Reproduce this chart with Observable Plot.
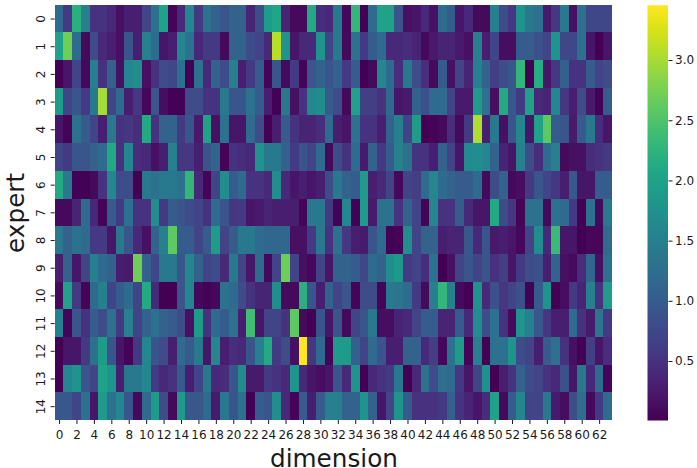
<!DOCTYPE html>
<html>
<head>
<meta charset="utf-8">
<script src="https://cdn.jsdelivr.net/npm/d3@7"></script>
<script src="https://cdn.jsdelivr.net/npm/@observablehq/plot@0.6"></script>
<style>
html,body{margin:0;padding:0;background:#fff;}
#wrap{position:relative;width:697px;height:468px;overflow:hidden;}
#wrap svg{position:absolute;left:0;top:0;background:transparent;}
</style>
</head>
<body>
<div id="wrap"></div>
<script>
const row0=[1.2,0.6,2.2,1.5,0.5,0.5,0.4,0.15,0.3,0.3,0.7,1.3,2.0,0.05,0.4,1.6,0.6,1.3,1.1,0.9,1.1,1.1,0.35,0.8,1.9,2.05,0.35,0.1,0.1,2.1,0.45,0.4,1.4,0.08,2.3,0.03,1.2,2.0,2.0,0.9,0.15,0.2,0.4,0.15,1.2,1.0,0.2,0.4,0.1,0.1,1.5,0.8,0.55,1.8,1.4,1.3,0.25,0.55,1.4,0.15,1.3,0.75,0.75,0.75];
const row1=[2.0,2.7,1.2,0.1,0.8,0.4,0.3,0.15,0.9,0.3,1.5,1.2,0.2,0.3,1.6,1.3,0.4,0.6,0.6,0.1,1.1,1.1,0.8,0.7,0.4,3.1,1.8,0.2,0.4,0.4,1.8,0.7,1.4,0.1,1.3,0.6,1.0,1.2,0.4,0.4,0.45,0.35,0.08,0.25,0.35,0.35,0.25,0.15,1.5,0.3,0.7,0.12,0.12,1.0,1.0,0.85,0.7,1.8,0.75,0.75,1.3,0.2,0.02,0.2];
const row2=[0.02,0.2,0.7,0.08,1.5,0.5,1.1,0.15,1.6,1.7,0.15,0.5,0.8,0.75,1.3,0.02,1.3,0.4,1.1,0.8,1.5,0.3,0.6,1.0,0.05,0.9,0.1,0.6,0.05,0.9,1.1,0.9,1.1,0.6,1.0,0.02,0.1,1.6,1.2,0.45,1.4,0.8,0.45,0.1,1.0,0.15,0.7,0.35,1.5,1.1,0.65,0.8,0.95,2.3,0.02,2.15,0.2,0.55,1.05,0.5,0.5,1.0,0.7,0.8];
const row3=[1.9,0.7,0.9,0.6,1.4,3.0,0.7,1.2,0.3,0.55,0.07,0.9,0.12,0.03,0.03,0.8,0.8,0.5,0.5,1.4,0.9,0.9,1.3,1.0,0.3,0.03,1.4,0.15,0.5,1.6,1.7,1.0,0.8,0.1,2.0,0.65,0.65,0.5,1.2,0.2,0.25,1.1,0.85,1.2,1.2,0.7,0.25,0.25,1.9,1.3,0.15,2.1,0.95,0.6,2.0,0.4,0.35,1.6,0.55,0.3,0.8,0.25,0.03,1.0];
const row4=[0.2,0.05,1.3,1.0,0.7,0.3,1.4,0.5,0.55,0.45,2.1,0.5,1.1,1.1,0.6,0.9,0.25,2.0,0.15,1.3,0.2,0.2,1.2,0.8,0.02,0.3,1.0,0.5,0.35,0.35,0.45,1.2,0.3,0.2,1.3,0.5,0.5,0.3,1.1,1.5,0.7,1.9,0.02,0.05,0.1,0.45,0.1,0.6,3.05,0.3,1.4,0.15,0.9,1.6,0.2,2.0,2.6,1.0,0.9,0.25,1.0,1.4,0.45,0.2];
const row5=[0.7,0.6,0.9,0.9,1.1,1.2,2.1,0.5,1.6,0.45,0.4,0.15,0.3,1.5,0.55,0.55,0.3,0.9,1.1,0.05,0.5,0.45,0.4,1.8,1.4,1.4,1.1,0.6,0.9,0.7,1.2,0.1,0.8,0.5,1.2,0.25,1.1,0.6,1.0,1.5,1.3,0.5,0.5,0.3,1.1,0.7,0.2,1.65,1.7,1.6,1.1,0.35,0.2,1.5,0.8,0.45,1.2,1.5,0.1,0.15,0.15,0.45,0.5,0.6];
const row6=[2.1,1.4,0.03,0.03,0.1,0.5,1.6,0.8,0.8,0.02,1.4,1.3,1.4,1.4,1.3,2.3,0.4,0.05,0.7,1.7,1.0,1.2,0.5,0.5,0.4,1.7,0.4,0.2,0.3,0.2,0.3,0.8,1.4,1.1,1.0,1.9,0.3,0.4,0.7,0.08,0.7,0.65,1.2,1.6,1.2,1.1,1.0,1.0,1.2,0.1,0.8,1.1,0.08,0.12,0.6,0.9,0.7,0.55,0.3,0.95,0.2,0.2,1.0,1.0];
const row7=[0.1,0.1,0.35,1.2,0.4,0.05,1.0,0.6,1.3,0.5,0.5,1.7,0.6,1.0,0.9,0.8,0.7,0.5,1.2,0.9,0.55,0.6,0.2,0.25,0.35,0.3,0.3,0.3,0.05,1.4,1.4,0.6,0.03,1.6,0.03,1.9,0.25,1.3,1.3,0.5,1.1,0.7,0.05,1.6,0.5,0.5,1.0,0.4,0.2,0.2,2.1,0.8,0.55,0.05,1.3,1.3,0.1,1.3,1.2,0.6,0.03,1.3,0.1,1.4];
const row8=[1.4,1.1,1.3,1.2,0.6,0.6,0.2,1.4,0.9,0.4,0.15,1.1,1.5,2.6,1.0,1.0,0.7,1.0,1.9,0.7,1.0,1.4,1.4,1.2,1.15,1.15,1.15,0.15,0.15,0.6,1.4,0.5,1.3,0.55,0.3,0.25,0.9,1.2,0.03,0.05,1.7,0.7,1.1,1.1,0.3,0.35,0.35,0.95,0.4,0.9,0.25,0.3,0.2,0.08,0.7,1.7,0.4,2.35,0.2,0.2,0.02,0.07,0.07,1.2];
const row9=[0.3,1.1,0.2,0.7,1.5,1.2,1.1,0.3,0.25,2.7,1.1,0.75,1.4,1.4,0.9,1.6,1.1,0.7,0.8,0.4,1.4,0.7,0.2,1.2,0.08,0.7,2.7,0.7,0.15,0.08,0.7,0.2,1.1,1.1,1.0,0.75,1.2,1.1,1.7,1.85,0.6,0.7,0.45,1.3,0.02,0.15,0.7,0.9,0.7,0.9,0.5,0.65,0.2,0.6,0.8,0.85,0.3,1.1,0.15,0.1,0.45,1.15,0.15,1.3];
const row10=[0.1,2.0,0.6,0.05,1.2,1.5,0.7,1.0,1.2,0.7,2.1,0.4,0.02,0.02,0.9,1.6,0.08,0.03,0.08,1.3,1.2,0.8,0.5,0.35,0.35,1.7,0.1,0.1,2.2,0.9,0.3,1.1,0.7,0.9,0.05,0.8,0.8,0.05,1.4,1.35,1.2,0.6,0.1,1.5,2.3,1.5,0.1,0.02,1.8,0.4,0.85,0.55,0.7,0.85,0.03,1.0,1.8,0.02,0.12,0.6,0.35,1.5,0.5,1.9];
const row11=[1.5,0.05,0.9,0.5,1.0,0.8,1.3,0.6,1.5,0.7,1.1,1.3,1.1,1.0,0.8,0.15,1.9,0.5,1.2,1.0,1.3,0.3,2.4,0.2,0.7,0.7,0.5,2.6,0.1,0.02,0.9,0.2,0.9,0.1,0.7,0.9,1.4,0.12,0.12,0.35,0.4,0.7,1.0,1.0,0.35,0.35,1.0,0.4,1.7,0.8,1.3,0.5,0.1,1.8,1.5,0.95,0.55,0.3,0.3,1.2,0.5,0.25,1.35,0.6];
const row12=[0.02,0.2,0.2,0.6,1.3,1.9,0.9,0.2,0.05,0.6,1.6,0.9,0.8,0.3,1.2,1.0,1.4,0.2,1.6,0.3,0.45,0.4,0.9,1.5,2.1,0.6,0.8,0.15,3.45,0.55,1.2,0.05,1.9,1.9,1.05,0.7,1.2,0.9,0.3,0.3,1.1,1.1,0.4,0.65,0.08,1.3,1.9,0.05,1.5,0.02,1.3,1.3,1.8,0.8,0.7,0.3,1.0,1.3,0.5,0.15,0.03,0.65,0.2,0.45];
const row13=[0.02,1.6,1.8,0.9,0.7,2.0,1.8,0.3,1.4,1.4,1.6,0.6,0.4,0.5,1.0,0.3,0.7,1.4,0.4,0.45,0.9,1.7,0.25,0.25,0.6,0.5,0.4,1.8,0.4,0.2,0.12,0.2,0.9,0.4,1.8,0.02,0.4,0.5,0.6,1.4,0.02,0.4,1.3,0.8,1.25,1.2,0.55,0.2,0.7,1.75,0.02,0.3,0.5,1.1,0.8,0.7,0.5,0.4,0.85,0.2,1.4,0.4,1.2,0.05];
const row14=[0.95,0.95,0.7,1.3,0.2,1.9,1.3,1.6,0.9,0.08,1.2,1.9,0.8,0.1,1.9,0.95,0.95,1.2,0.25,1.4,0.9,1.3,0.02,1.0,0.9,1.7,0.4,0.05,1.0,0.3,1.0,1.5,1.5,1.1,1.1,1.8,1.1,0.2,0.7,1.8,1.0,0.5,0.5,0.5,0.6,1.05,0.5,0.35,0.2,0.45,2.0,0.1,1.0,1.6,0.7,0.7,1.4,0.25,0.12,0.8,1.25,0.1,0.6,1.2];

const rows=[row0,row1,row2,row3,row4,row5,row6,row7,row8,row9,row10,row11,row12,row13,row14];
const experts=d3.range(15);
const dims=d3.range(64);
const xTicks=d3.range(0,64,2);
const barTicks=[0.5,1.0,1.5,2.0,2.5,3.0];
const colorDomain=[0.01,3.46];
const cells=rows.flatMap((r,e)=>r.map((v,d)=>({expert:e,dim:d,value:v})));

const font="'DejaVu Sans', sans-serif";
const ink="#1a1a1a";
const color={type:"linear",scheme:"viridis",domain:colorDomain};

const main=Plot.plot({
  width:697,height:468,
  marginLeft:54.7,marginRight:84.8,marginTop:4.7,marginBottom:48,
  style:{fontFamily:font,fontSize:"12px",color:ink,background:"transparent"},
  x:{type:"band",domain:dims,padding:0,round:false},
  y:{type:"band",domain:experts,padding:0,round:false},
  color,
  marks:[
    Plot.cell(cells,{x:"dim",y:"expert",fill:"value",shapeRendering:"crispEdges"}),
    Plot.axisX({ticks:xTicks,tickSize:4,tickPadding:6,fontSize:12,label:null,stroke:ink,fill:ink}),
    Plot.axisY({tickRotate:-90,tickSize:4,tickPadding:6,fontSize:12,label:null,stroke:ink,fill:ink}),
    Plot.text(["dimension"],{frameAnchor:"bottom",dy:46,fontSize:24.7,fill:ink,text:d=>d,lineAnchor:"bottom"}),
    Plot.text(["expert"],{frameAnchor:"left",textAnchor:"middle",dx:-39.5,rotate:-90,fontSize:24.7,fill:ink,text:d=>d})
  ]
});

const bar=Plot.plot({
  width:697,height:468,
  marginLeft:647,marginRight:29.5,marginTop:4.7,marginBottom:48,
  style:{fontFamily:font,fontSize:"12px",color:ink,background:"transparent"},
  x:{domain:[0,1],axis:null},
  y:{domain:colorDomain,range:[420,4.7]},
  color,
  marks:[
    Plot.raster({x1:0,x2:1,y1:colorDomain[0],y2:colorDomain[1],width:1,height:256,fill:(x,y)=>y,imageRendering:"auto"}),
    Plot.axisY({anchor:"right",ticks:barTicks,tickFormat:".1f",tickSize:4,tickPadding:3,fontSize:12,label:null,stroke:ink,fill:ink})
  ]
});

const wrap=document.getElementById("wrap");
wrap.appendChild(main);
wrap.appendChild(bar);
</script>
</body>
</html>
